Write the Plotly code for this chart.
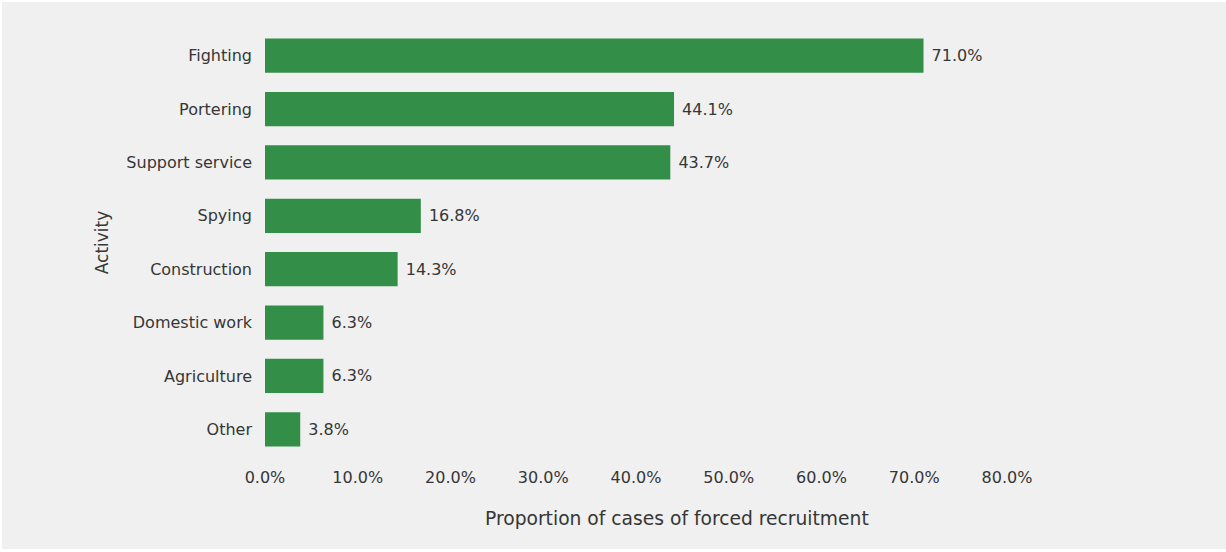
import plotly.graph_objects as go

activities = ["Fighting", "Portering", "Support service", "Spying", "Construction",
              "Domestic work", "Agriculture", "Other"]
proportions = [71.0, 44.1, 43.7, 16.8, 14.3, 6.3, 6.3, 3.8]
x_ticks = [0, 10, 20, 30, 40, 50, 60, 70, 80]
x_tick_labels = [f"{v:.1f}%" for v in x_ticks]
x_title = "Proportion of cases of forced recruitment"
y_title = "Activity"

W, H = 1226, 552
L, R, T, B = 265, 219, 29, 96
pw, ph = W - L - R, H - T - B

FONT = "DejaVu Sans"
TXT = "#363636"
BG = "#eff0ef"

fig = go.Figure(go.Bar(
    x=proportions,
    y=activities,
    orientation="h",
    marker=dict(color="#338f47", line=dict(width=0)),
    width=0.64,
    text=[f" {v:.1f}%" for v in proportions],
    textposition="outside",
    textfont=dict(family=FONT, size=16, color=TXT),
    cliponaxis=False,
    hoverinfo="skip",
))

# grey panel with thin white edge (left, top, bottom)
fig.add_shape(type="rect", xref="paper", yref="paper", layer="below",
              x0=(2 - L) / pw, x1=(W + 5 - L) / pw,
              y0=(H - T - B - (549 - T)) / ph, y1=(ph - (2 - T)) / ph,
              fillcolor=BG, line=dict(width=0))

# x-axis title (offset to the right of plot centre, as in the original)
fig.add_annotation(text=x_title, xref="paper", yref="paper",
                   x=(677 - L) / pw, y=(ph + T - 518) / ph,
                   xanchor="center", yanchor="middle", showarrow=False,
                   font=dict(family=FONT, size=18.7, color=TXT))

fig.update_layout(
    width=W, height=H,
    margin=dict(l=L, r=R, t=T, b=B, pad=0),
    paper_bgcolor="white",
    plot_bgcolor="rgba(0,0,0,0)",
    showlegend=False,
    font=dict(family=FONT, color=TXT, size=15),
    xaxis=dict(
        range=[0, 80], tickvals=x_ticks, ticktext=x_tick_labels,
        showgrid=False, zeroline=False, showline=False, ticks="",
        tickfont=dict(family=FONT, size=16, color=TXT),
        ticklabelstandoff=10,
    ),
    yaxis=dict(
        categoryorder="array", categoryarray=activities[::-1],
        showgrid=False, zeroline=False, showline=False, ticks="",
        tickfont=dict(family=FONT, size=16, color=TXT),
        ticklabelstandoff=12,
        title=dict(text=y_title, font=dict(family=FONT, size=17, color=TXT), standoff=13),
    ),
)

fig.write_html("out.html", config={"displayModeBar": False},
               post_script="document.body.style.margin='0';")
